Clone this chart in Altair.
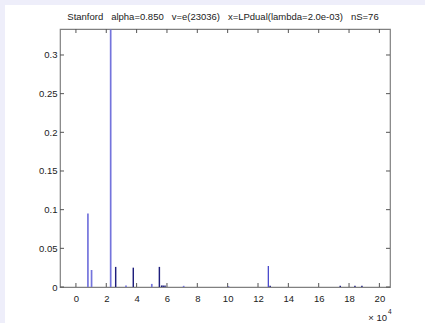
import altair as alt
import pandas as pd

# spike positions (x in units of 1e4), heights and colour groups
spike_x = [0.79, 1.03, 2.29, 3.30, 5.00, 7.10, 10.05,
           2.62, 3.78, 5.50, 5.65, 5.75, 5.87, 12.80, 17.42, 18.39, 18.85,
           12.68]
spike_h = [0.095, 0.022, 0.333, 0.002, 0.004, 0.0015, 0.001,
           0.026, 0.025, 0.026, 0.002, 0.002, 0.002, 0.0015, 0.0015, 0.0015, 0.0015,
           0.027]
spike_g = ["light"] * 7 + ["dark"] * 10 + ["mid"]

x_ticks = [0, 2, 4, 6, 8, 10, 12, 14, 16, 18, 20]
y_ticks = [0, 0.05, 0.1, 0.15, 0.2, 0.25, 0.3]

SP = "\u00a0\u00a0\u00a0"
title_text = f"Stanford{SP}alpha=0.850{SP}v=e(23036){SP}x=LPdual(lambda=2.0e-03){SP}nS=76"

W, H = 330, 258
FONT = "Liberation Sans"
FS = 9.5

spikes = pd.DataFrame({"x": spike_x, "h": spike_h, "g": spike_g})
xt = pd.DataFrame({"t": x_ticks})
yt = pd.DataFrame({"t": y_ticks})
one = pd.DataFrame({"a": [0]})

xscale = alt.Scale(domain=[-1.05, 20.7], nice=False, zero=False)
yscale = alt.Scale(domain=[0, 0.3336], nice=False, zero=False)

def xaxis():
    return alt.Axis(values=x_ticks, title=None, grid=False, ticks=False,
                    domain=False, labelFontSize=FS, labelFont=FONT,
                    labelColor="#222", labelPadding=6, format="d",
                    labelOverlap=False, labelBound=False, labelFlush=False)

def yaxis():
    return alt.Axis(values=y_ticks, title=None, grid=False, ticks=False,
                    domain=False, labelFontSize=FS, labelFont=FONT,
                    labelColor="#222", labelPadding=3, format=".2~f",
                    labelOverlap=False, labelBound=False, labelFlush=False)

LAV = "#eeeefa"
strip_top = alt.Chart(one).mark_rect(color=LAV, clip=False).encode(
    x=alt.value(-60), x2=alt.value(W + 35), y=alt.value(-29), y2=alt.value(-24))
strip_left = alt.Chart(one).mark_rect(color=LAV, clip=False).encode(
    x=alt.value(-60), x2=alt.value(-55), y=alt.value(-29), y2=alt.value(H + 36))

stems = alt.Chart(spikes).mark_rule().encode(
    x=alt.X("x:Q", scale=xscale, axis=xaxis()),
    y=alt.Y("h:Q", scale=yscale, axis=yaxis()),
    y2=alt.datum(0),
    color=alt.Color("g:N", scale=alt.Scale(domain=["light", "dark", "mid"],
                                           range=["#7474dc", "#1e1e7c", "#3a3ac8"]),
                    legend=None),
    strokeWidth=alt.StrokeWidth("g:N", scale=alt.Scale(domain=["light", "dark", "mid"],
                                                       range=[1.7, 1.2, 1.4]),
                                legend=None),
)

tick_color = "#555"
xb = alt.Chart(xt).mark_rule(color=tick_color).encode(
    x=alt.X("t:Q", scale=xscale, axis=xaxis()), y=alt.value(H), y2=alt.value(H - 4))
xtop = alt.Chart(xt).mark_rule(color=tick_color).encode(
    x=alt.X("t:Q", scale=xscale, axis=xaxis()), y=alt.value(0), y2=alt.value(4))
yl = alt.Chart(yt).mark_rule(color=tick_color).encode(
    y=alt.Y("t:Q", scale=yscale, axis=yaxis()), x=alt.value(0), x2=alt.value(4))
yr = alt.Chart(yt).mark_rule(color=tick_color).encode(
    y=alt.Y("t:Q", scale=yscale, axis=yaxis()), x=alt.value(W), x2=alt.value(W - 4))

title = alt.Chart(one).mark_text(text=title_text, font=FONT, fontSize=FS,
                                 color="#222", align="center", baseline="alphabetic").encode(
    x=alt.value(W / 2 - 2), y=alt.value(-9))

exp_base = alt.Chart(one).mark_text(text="\u00d7 10", font=FONT, fontSize=FS,
                                    color="#222", align="right", baseline="alphabetic").encode(
    x=alt.value(W - 3), y=alt.value(H + 34))
exp_sup = alt.Chart(one).mark_text(text="4", font=FONT, fontSize=6.5,
                                   color="#222", align="left", baseline="alphabetic").encode(
    x=alt.value(W - 2), y=alt.value(H + 27))

chart = alt.layer(strip_top, strip_left, stems, xb, xtop, yl, yr,
                  title, exp_base, exp_sup).properties(
    width=W, height=H,
    autosize=alt.AutoSizeParams(type="none"),
    padding={"left": 60, "top": 29, "right": 35, "bottom": 36},
    background="white",
).configure_view(stroke="#808080", strokeWidth=1.2)

chart.save("out.html", embed_options={"renderer": "svg", "actions": False})
